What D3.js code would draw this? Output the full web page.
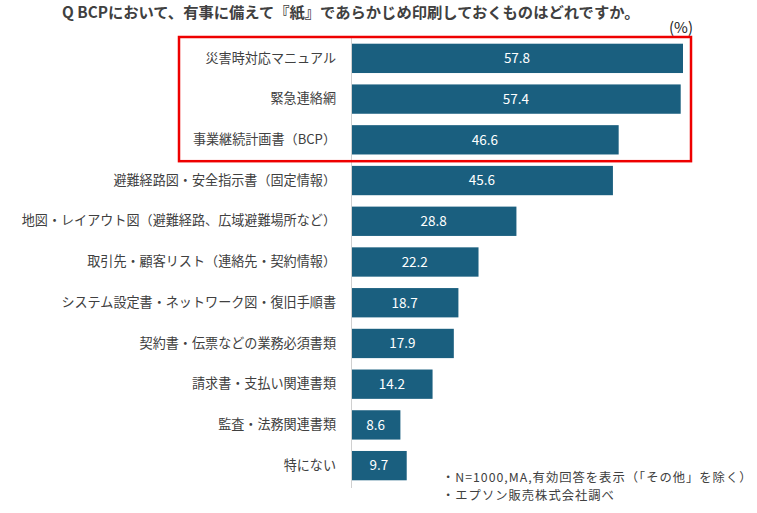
<!DOCTYPE html>
<html>
<head>
<meta charset="utf-8">
<script src="https://cdn.jsdelivr.net/npm/d3@7"></script>
<style>
  body { margin: 0; background: #fff; }
  text { font-family: "Noto Sans CJK JP", "Noto Sans", sans-serif; }
</style>
</head>
<body>
<div id="main"></div>
<script>
const categories = [
    "災害時対応マニュアル",
    "緊急連絡網",
    "事業継続計画書（BCP）",
    "避難経路図・安全指示書（固定情報）",
    "地図・レイアウト図（避難経路、広域避難場所など）",
    "取引先・顧客リスト（連絡先・契約情報）",
    "システム設定書・ネットワーク図・復旧手順書",
    "契約書・伝票などの業務必須書類",
    "請求書・支払い関連書類",
    "監査・法務関連書類",
    "特にない"
];
const values = [57.8, 57.4, 46.6, 45.6, 28.8, 22.2, 18.7, 17.9, 14.2, 8.6, 9.7];
const highlighted = categories.slice(0, 3);
const titleText = "Q BCPにおいて、有事に備えて『紙』であらかじめ印刷しておくものはどれですか。";
const unitText = "(%)";
const notes = [
    "・N=1000,MA,有効回答を表示（「その他」を除く）",
    "・エプソン販売株式会社調べ"
];

const ctx = {
    width: 757,
    height: 513,
    barColor: "#1a5f7f",
    textColor: "#404040",
    boxColor: "#ee0000"
};

function createViz(){
    let svg = d3.select("#main").append("svg")
        .attr("width", ctx.width)
        .attr("height", ctx.height);

    let x = d3.scaleLinear().domain([0, 57.8]).range([351, 683]);
    let y = d3.scaleBand().domain(categories).range([38, 486]).paddingInner(0.28).paddingOuter(0.14);

    // title
    svg.append("text")
        .attr("x", 62)
        .attr("y", 18)
        .attr("font-size", "15.3px")
        .attr("font-weight", "bold")
        .attr("fill", ctx.textColor)
        .text(titleText);

    svg.append("text")
        .attr("x", 693)
        .attr("y", 33)
        .attr("text-anchor", "end")
        .attr("font-size", "15px")
        .attr("fill", "#222")
        .text(unitText);

    // bars
    svg.selectAll("rect.bar")
        .data(values)
        .enter()
        .append("rect")
        .attr("class", "bar")
        .attr("x", x(0))
        .attr("y", (d, i) => y(categories[i]))
        .attr("width", d => x(d) - x(0))
        .attr("height", y.bandwidth())
        .attr("fill", ctx.barColor);

    svg.selectAll("text.val")
        .data(values)
        .enter()
        .append("text")
        .attr("class", "val")
        .attr("x", d => (x(0) + x(d)) / 2)
        .attr("y", (d, i) => y(categories[i]) + y.bandwidth() / 2)
        .attr("dy", "0.36em")
        .attr("text-anchor", "middle")
        .attr("font-size", "13.5px")
        .attr("fill", "white")
        .text(d => d.toFixed(1));

    // category axis
    let axis = d3.axisLeft(y).tickSize(0).tickPadding(15);
    let axisG = svg.append("g")
        .attr("transform", "translate(" + x(0) + ",0)")
        .call(axis);
    axisG.select(".domain").attr("stroke", "#d0d0d0").attr("stroke-width", 1)
        .attr("d", "M0.5,38V488");
    axisG.selectAll(".tick text")
        .attr("font-size", "13.1px")
        .attr("fill", ctx.textColor)
        .attr("font-family", "'Noto Sans CJK JP', sans-serif");

    // highlight box around the top three
    let top = y(highlighted[0]) - y.step() * y.paddingInner() / 2 - 1;
    let bottom = y(highlighted[highlighted.length - 1]) + y.bandwidth() + y.step() * y.paddingInner() / 2 + 1;
    svg.append("rect")
        .attr("x", 179)
        .attr("y", top)
        .attr("width", 691 - 179)
        .attr("height", bottom - top)
        .attr("fill", "none")
        .attr("stroke", ctx.boxColor)
        .attr("stroke-width", 2.5);

    // notes
    svg.selectAll("text.note")
        .data(notes)
        .enter()
        .append("text")
        .attr("class", "note")
        .attr("x", 442)
        .attr("y", (d, i) => 482 + i * 17.8)
        .attr("font-size", "12.3px")
        .attr("letter-spacing", "1px")
        .attr("fill", ctx.textColor)
        .text(d => d);
}

createViz();
</script>
</body>
</html>
